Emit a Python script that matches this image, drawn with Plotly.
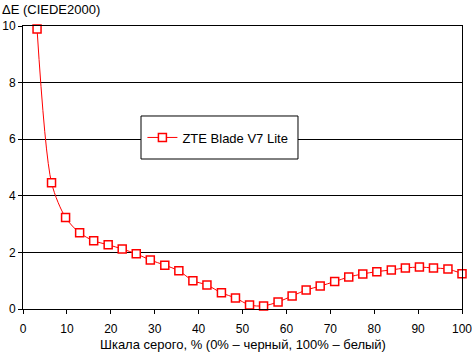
import plotly.graph_objects as go

grey_pct = [3.2, 6.5, 9.7, 12.9, 16.1, 19.4, 22.6, 25.8, 29.0, 32.3, 35.5, 38.7,
            41.9, 45.2, 48.4, 51.6, 54.8, 58.1, 61.3, 64.5, 67.7, 71.0, 74.2,
            77.4, 80.6, 83.9, 87.1, 90.3, 93.5, 96.8, 100.0]
delta_e = [9.89, 4.46, 3.23, 2.69, 2.41, 2.27, 2.12, 1.95, 1.73, 1.55, 1.35, 1.00,
           0.85, 0.57, 0.39, 0.14, 0.11, 0.25, 0.46, 0.67, 0.81, 0.97, 1.13,
           1.24, 1.32, 1.38, 1.45, 1.48, 1.45, 1.41, 1.25]
series_name = "ZTE Blade V7 Lite"
x_ticks = list(range(0, 101, 10))
y_ticks = list(range(0, 11, 2))

FONT = "Liberation Sans, Arial, sans-serif"
FS = 13
TICK_FS = 12

fig = go.Figure()
fig.add_trace(go.Scatter(
    x=grey_pct, y=delta_e, name=series_name, mode="lines+markers",
    line=dict(color="#ff0000", width=1, shape="spline", smoothing=0.8),
    marker=dict(symbol="square", size=8, color="white",
                line=dict(color="#ff0000", width=1.5)),
    cliponaxis=False,
))

fig.update_layout(
    width=472, height=352,
    margin=dict(l=23, r=10, t=26, b=43),
    paper_bgcolor="white", plot_bgcolor="white",
    font=dict(family=FONT, size=FS, color="black"),
    showlegend=True,
    legend=dict(x=0.272, xanchor="left", y=0.606, yanchor="middle",
                bgcolor="rgba(0,0,0,0)", borderwidth=0,
                font=dict(family=FONT, size=FS, color="black")),
    shapes=[dict(type="rect", xref="paper", yref="paper",
                 x0=0.2688, x1=0.6264, y0=0.530, y1=0.682,
                 line=dict(color="black", width=1), fillcolor="white",
                 layer="above")],
    annotations=[
        dict(text="ΔE (CIEDE2000)", xref="paper", yref="paper",
             x=-23/439, y=1 + 26/283, xanchor="left", yanchor="top",
             showarrow=False, font=dict(family=FONT, size=FS, color="black")),
        dict(text="Шкала серого, % (0% – черный, 100% – белый)",
             xref="paper", yref="paper", x=0.5, y=-35/283,
             xanchor="center", yanchor="middle", showarrow=False,
             font=dict(family=FONT, size=FS, color="black")),
    ],
)
fig.update_xaxes(range=[0, 100], tickvals=x_ticks, showgrid=False,
                 showline=True, linecolor="black", linewidth=1, mirror=True,
                 ticks="outside", ticklen=4, tickcolor="black", zeroline=False,
                 tickfont=dict(family=FONT, size=TICK_FS, color="black"),
                 ticklabeloverflow="allow", ticklabelstandoff=5,
                 fixedrange=True, automargin=False)
fig.update_yaxes(range=[0, 10], tickvals=y_ticks, showgrid=True,
                 gridcolor="black", gridwidth=1,
                 showline=True, linecolor="black", linewidth=1, mirror=True,
                 ticks="outside", ticklen=4, tickcolor="black", zeroline=False,
                 tickfont=dict(family=FONT, size=TICK_FS, color="black"),
                 ticklabeloverflow="allow",
                 fixedrange=True, automargin=False)

fig.write_html("out.html")
